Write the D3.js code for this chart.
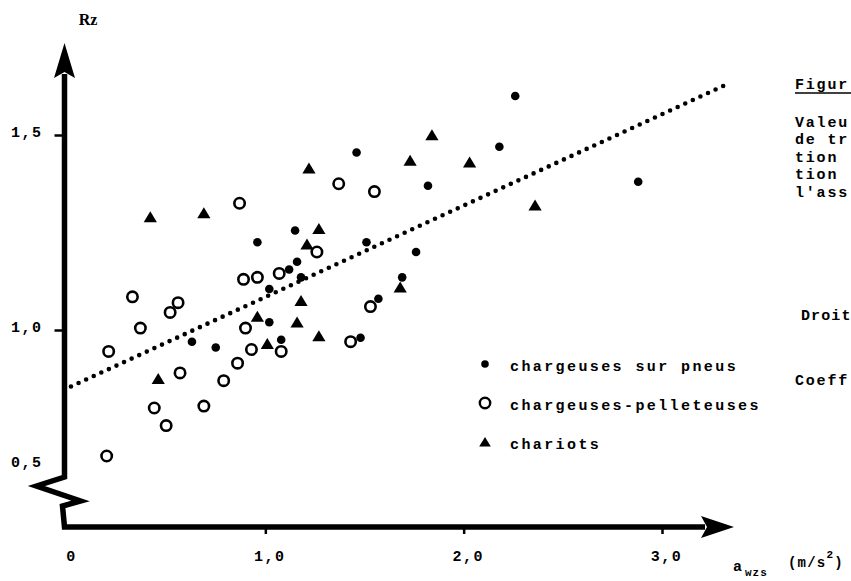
<!DOCTYPE html>
<html><head><meta charset="utf-8">
<script src="https://cdn.jsdelivr.net/npm/d3@7"></script>
<style>
body{margin:0;background:#fff}
svg{display:block;background:#fff}
text{font-family:"Liberation Mono","DejaVu Sans Mono",monospace;font-weight:bold;fill:#000}
</style>
</head><body>
<svg id="chart" width="851" height="581"></svg>
<script>
// ---- data ----
const pneusX = [2.26, 2.18, 1.46, 2.88, 1.82, 1.15, 0.96, 1.51, 1.76, 1.16, 1.12, 1.18, 1.69, 1.02, 1.02, 1.08, 1.48, 1.57, 0.63, 0.75];
const pneusY = [1.60, 1.47, 1.455, 1.38, 1.37, 1.255, 1.225, 1.225, 1.20, 1.175, 1.155, 1.135, 1.135, 1.105, 1.02, 0.975, 0.98, 1.08, 0.97, 0.955];
const pelleX = [1.37, 1.55, 0.87, 1.26, 1.07, 0.96, 0.89, 0.33, 0.56, 0.52, 0.37, 0.90, 0.21, 0.57, 0.93, 1.08, 0.86, 0.79, 0.69, 0.44, 0.50, 1.43, 1.53, 0.20];
const pelleY = [1.375, 1.355, 1.325, 1.20, 1.145, 1.135, 1.13, 1.085, 1.07, 1.045, 1.005, 1.005, 0.945, 0.89, 0.95, 0.945, 0.915, 0.87, 0.805, 0.80, 0.755, 0.97, 1.06, 0.60];
const chariotsX = [1.84, 1.73, 2.03, 1.22, 2.36, 0.42, 0.69, 1.27, 1.21, 1.18, 1.68, 0.96, 1.16, 1.01, 1.27, 0.46];
const chariotsY = [1.50, 1.435, 1.43, 1.415, 1.32, 1.29, 1.30, 1.26, 1.22, 1.075, 1.11, 1.035, 1.02, 0.965, 0.985, 0.875];
const regX = [0.02, 3.34];
const regY = [0.855, 1.633];
const xTicks = [0, 1, 2, 3];
const xTickLabels = ["0", "1,0", "2,0", "3,0"];
const yTicks = [0.5, 1.0, 1.5];
const yTickLabels = ["0,5", "1,0", "1,5"];
const seriesNames = ["chargeuses sur pneus", "chargeuses-pelleteuses", "chariots"];
const yTitle = "Rz";
const xTitleMain = "a", xTitleSub = "wzs", xTitleUnit = "(m/s", xTitleSup = "2", xTitleEnd = ")";
const noteLines = ["Valeu", "de tr", "tion", "tion", "l'ass"];
const noteTitle = "Figur";
const noteDroite = "Droit";
const noteCoeff = "Coeff";

// ---- scales (broken y axis below 0.7) ----
const svg = d3.select("#chart");
const x = d3.scaleLinear().domain([0, 3]).range([67, 662]);
const y = d3.scaleLinear().domain([0.5, 0.7, 1.7]).range([465, 447, 57]);

const axisX = x(0) - 2.5;   // vertical axis line
const axisY = 527;          // horizontal axis line
const SW = 5.5;

// ---- axes lines with arrows and break ----
const g = svg.append("g");
g.append("path")
  .attr("d", `M${axisX},74 L${axisX},477 L${axisX-28},486 L${axisX+16},501 L${axisX-2},506 L${axisX},${axisY} L705,${axisY}`)
  .attr("fill", "none").attr("stroke", "#000").attr("stroke-width", SW)
  .attr("stroke-linejoin", "miter");
g.append("path")
  .attr("d", `M${axisX},43 L${axisX+10.5},78 L${axisX},72 L${axisX-10.5},78 Z`)
  .attr("fill", "#000");
g.append("path")
  .attr("d", `M734,${axisY} L701,${axisY-11} L707,${axisY} L701,${axisY+11} Z`)
  .attr("fill", "#000");

// ---- x axis ticks via d3 axis ----
const xAxis = d3.axisBottom(x).tickValues(xTicks)
  .tickFormat((d, i) => xTickLabels[i]).tickSize(7).tickPadding(16);
const gx = svg.append("g").attr("transform", `translate(0,${axisY})`).call(xAxis);
gx.select(".domain").remove();
gx.selectAll(".tick line").attr("stroke", "#000").attr("stroke-width", 2.5)
  .attr("opacity", d => d === 0 ? 0 : 1);
gx.selectAll(".tick text").attr("font-size", 15).attr("letter-spacing", "1.5px")
  .attr("font-family", "Liberation Mono").attr("font-weight", "bold")
  .attr("dx", "4px").attr("fill", "#000");

// ---- y axis ticks via d3 axis ----
const yAxis = d3.axisLeft(y).tickValues(yTicks)
  .tickFormat((d, i) => yTickLabels[i]).tickSize(8).tickPadding(12);
const gy = svg.append("g").attr("transform", `translate(${axisX - 2},0)`).call(yAxis);
gy.select(".domain").remove();
gy.selectAll(".tick line").attr("stroke", "#000").attr("stroke-width", 2.5)
  .attr("opacity", d => d === 0.5 ? 0 : 1);
gy.selectAll(".tick text").attr("font-size", 15).attr("letter-spacing", "1.5px")
  .attr("font-family", "Liberation Mono").attr("font-weight", "bold")
  .attr("dy", "0.1em").attr("fill", "#000");

// ---- titles ----
svg.append("text").attr("x", x(0) + 21).attr("y", 25).attr("text-anchor", "middle")
  .attr("font-size", 16).attr("font-weight", "bold")
  .style("font-family", "'Liberation Serif',serif").text(yTitle);
svg.append("text").attr("x", 733).attr("y", 571).attr("font-size", 15).text(xTitleMain);
svg.append("text").attr("x", 745).attr("y", 576).attr("font-size", 11).attr("letter-spacing", "1px").text(xTitleSub);
const unit = svg.append("text").attr("x", 788).attr("y", 567).attr("font-size", 14).attr("letter-spacing", "1.2px");
unit.append("tspan").text(xTitleUnit);
unit.append("tspan").attr("dy", -9).attr("font-size", 11).text(xTitleSup);
unit.append("tspan").attr("dy", 9).text(xTitleEnd);

// ---- regression line (dotted) ----
svg.append("line")
  .attr("x1", x(regX[0])).attr("y1", y(regY[0]))
  .attr("x2", x(regX[1])).attr("y2", y(regY[1]))
  .attr("stroke", "#000").attr("stroke-width", 4.6)
  .attr("stroke-linecap", "round").attr("stroke-dasharray", "0 8.35");

// ---- markers ----
const tri = "M0,-5.7 L6.6,5.3 L-6.6,5.3 Z";
const pelle = d3.range(pelleX.length).map(i => [pelleX[i], pelleY[i]]);
const pneus = d3.range(pneusX.length).map(i => [pneusX[i], pneusY[i]]);
const chariots = d3.range(chariotsX.length).map(i => [chariotsX[i], chariotsY[i]]);

svg.append("g").selectAll("circle").data(pelle).join("circle")
  .attr("cx", d => x(d[0])).attr("cy", d => y(d[1])).attr("r", 5.2)
  .attr("fill", "none").attr("stroke", "#000").attr("stroke-width", 2.6);
svg.append("g").selectAll("circle").data(pneus).join("circle")
  .attr("cx", d => x(d[0])).attr("cy", d => y(d[1])).attr("r", 4.3)
  .attr("fill", "#000");
svg.append("g").selectAll("path").data(chariots).join("path")
  .attr("d", tri).attr("transform", d => `translate(${x(d[0])},${y(d[1])})`)
  .attr("fill", "#000");

// ---- legend ----
const legRows = [366, 405, 444];
const leg = svg.append("g");
seriesNames.forEach((name, i) => {
  const cy = legRows[i] - 2;
  if (i === 0) leg.append("circle").attr("cx", 485).attr("cy", cy).attr("r", 3.8).attr("fill", "#000");
  if (i === 1) leg.append("circle").attr("cx", 485).attr("cy", cy).attr("r", 5.2).attr("fill", "none").attr("stroke", "#000").attr("stroke-width", 2.4);
  if (i === 2) leg.append("path").attr("d", "M0,-5 L5.8,4.6 L-5.8,4.6 Z").attr("transform", `translate(485,${cy})`).attr("fill", "#000");
  leg.append("text").attr("x", 510).attr("y", legRows[i]).attr("dy", "0.32em")
    .attr("font-size", 15).attr("letter-spacing", "2.4px").text(name);
});

// ---- side notes (truncated at the right edge as in the reference) ----
const notes = svg.append("g");
notes.append("text").attr("x", 795).attr("y", 89).attr("font-size", 15).attr("letter-spacing", "1.8px").text(noteTitle);
notes.append("line").attr("x1", 795).attr("x2", 851).attr("y1", 93).attr("y2", 93).attr("stroke", "#000").attr("stroke-width", 1.6);
noteLines.forEach((t, i) => {
  notes.append("text").attr("x", 795).attr("y", 127 + i * 17.4).attr("font-size", 15).attr("letter-spacing", "1.8px").text(t);
});
notes.append("text").attr("x", 801).attr("y", 320).attr("font-size", 15).attr("letter-spacing", "1.1px").text(noteDroite);
notes.append("text").attr("x", 795).attr("y", 385).attr("font-size", 15).attr("letter-spacing", "1.8px").text(noteCoeff);
</script>
</body></html>
